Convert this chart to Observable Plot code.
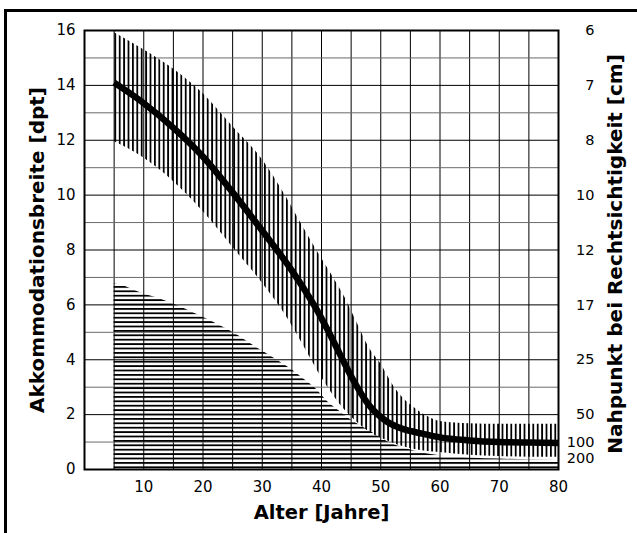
<!DOCTYPE html>
<html>
<head>
<meta charset="utf-8">
<script src="https://cdn.jsdelivr.net/npm/d3@7"></script>
<script src="https://cdn.jsdelivr.net/npm/@observablehq/plot@0.6"></script>
<style>
  html, body { margin: 0; padding: 0; background: #fff; }
  #wrap { position: relative; width: 637px; height: 533px; overflow: hidden; }
  #border { position: absolute; left: 4px; top: 9px; right: -10px; bottom: -10px; border-left: 3px solid #000; border-top: 3px solid #000; pointer-events: none; }
  #chart svg { display: block; }
</style>
</head>
<body>
<div id="wrap"><div id="chart"></div><div id="border"></div></div>
<script>
// Mean accommodation amplitude (thick curve)
const meanAges = [5, 10, 15, 20, 25, 30, 35, 37, 39, 41, 43, 45, 48, 51, 54, 57, 60, 65, 70, 75, 80];
const meanDpt  = [14.1, 13.35, 12.45, 11.4, 10.1, 8.7, 7.25, 6.6, 5.9, 5.1, 4.25, 3.4, 2.35, 1.75, 1.46, 1.31, 1.17, 1.06, 1.0, 0.98, 0.97];

// Scatter band (vertical hatching)
const bandAges  = [5, 10, 15, 20, 25, 30, 34, 37, 40, 42, 44, 46, 48, 50, 52, 54, 56, 58, 60, 65, 70, 75, 80];
const bandUpper = [15.93, 15.3, 14.6, 13.7, 12.5, 11.3, 9.95, 8.8, 7.7, 7.0, 6.25, 5.35, 4.45, 3.85, 3.1, 2.55, 2.2, 1.92, 1.75, 1.67, 1.65, 1.65, 1.65];
const bandLower = [11.95, 11.35, 10.5, 9.4, 8.1, 6.8, 5.6, 4.5, 3.35, 2.7, 2.15, 1.72, 1.38, 1.15, 0.97, 0.82, 0.72, 0.66, 0.62, 0.52, 0.47, 0.45, 0.45];

// Lower region (horizontal hatching)
const lowAges = [5, 7, 9, 11, 13, 15, 17, 19, 21, 23, 25, 27, 29, 31, 33, 35, 37, 39, 41, 43, 45, 48, 51, 54, 57, 60, 65, 70, 75, 80];
const lowTop  = [6.78, 6.66, 6.48, 6.33, 6.2, 6.03, 5.85, 5.65, 5.45, 5.23, 5.0, 4.73, 4.45, 4.19, 3.92, 3.64, 3.3, 2.95, 2.48, 2.13, 1.8, 1.42, 1.03, 0.77, 0.6, 0.5, 0.42, 0.38, 0.35, 0.33];

// Axes
const xTicks = [10, 20, 30, 40, 50, 60, 70, 80];
const xGrid = [5, 10, 15, 20, 25, 30, 35, 40, 45, 50, 55, 60, 65, 70, 75];
const yTicks = [0, 2, 4, 6, 8, 10, 12, 14, 16];
const yGridEven = [2, 4, 6, 8, 10, 12, 14];
const yGridOdd = [1, 3, 5, 7, 9, 11, 13, 15];
const rightTickDpt = [16, 14, 12, 10, 8, 6, 4, 2, 1];
const rightTickLabels = ["6", "7", "8", "10", "12", "17", "25", "50", "100"];
const rightTickDptLast = [0.5];
const rightTickLabelLast = ["200"];

const xTitle = "Alter [Jahre]";
const yTitle = "Akkommodationsbreite [dpt]";
const y2Title = "Nahpunkt bei Rechtsichtigkeit [cm]";

const font = "DejaVu Sans";

const chart = Plot.plot({
  width: 637,
  height: 533,
  marginLeft: 84,
  marginRight: 79,
  marginTop: 30,
  marginBottom: 64,
  style: { fontFamily: font, fontSize: "15px", color: "#000", background: "transparent" },
  x: { domain: [0, 80] },
  y: { domain: [0, 16] },
  marks: [
    Plot.ruleX(xGrid, { stroke: "#000", strokeWidth: 1 }),
    Plot.ruleY(yGridEven, { stroke: "#000", strokeWidth: 1 }),
    Plot.ruleY(yGridOdd, { stroke: "#6a6a6a", strokeWidth: 1 }),
    Plot.areaY(lowAges, { x: lowAges, y: lowTop, fill: "url(#hhatch)", curve: "monotone-x" }),
    Plot.areaY(bandAges, { x: bandAges, y1: bandLower, y2: bandUpper, fill: "url(#vhatch)", curve: "monotone-x" }),
    Plot.line(meanAges, { x: meanAges, y: meanDpt, stroke: "#000", strokeWidth: 6.5, curve: "monotone-x", strokeLinecap: "butt" }),
    Plot.frame({ stroke: "#000", strokeWidth: 2 }),
    Plot.axisX(xTicks, { tickSize: 0, tickPadding: 12, label: null }),
    Plot.axisY(yTicks, { anchor: "left", tickSize: 0, tickPadding: 9, label: null }),
    Plot.text(rightTickDpt, { y: rightTickDpt, text: rightTickLabels, frameAnchor: "right", dx: 36, textAnchor: "end", fontSize: 14.5 }),
    Plot.text(rightTickDptLast, { y: rightTickDptLast, text: rightTickLabelLast, frameAnchor: "right", dx: 36, dy: 3, textAnchor: "end", fontSize: 14.5 }),
    Plot.text([xTitle], { frameAnchor: "bottom", dy: 43, textAnchor: "middle", lineAnchor: "middle", fontWeight: "bold", fontSize: 19.5 }),
    Plot.text([yTitle], { frameAnchor: "left", dx: -47, rotate: -90, textAnchor: "middle", lineAnchor: "middle", fontWeight: "bold", fontSize: 20 }),
    Plot.text([y2Title], { frameAnchor: "right", dx: 57, dy: 4, rotate: -90, textAnchor: "middle", lineAnchor: "middle", fontWeight: "bold", fontSize: 20 })
  ]
});

// hatch patterns
const svg = d3.select(chart);
const defs = svg.insert("defs", ":first-child");
const vp = defs.append("pattern").attr("id", "vhatch").attr("patternUnits", "userSpaceOnUse")
  .attr("width", 4.4).attr("height", 10);
vp.append("rect").attr("x", 0).attr("y", 0).attr("width", 1.8).attr("height", 10).attr("fill", "#000");
const hp = defs.append("pattern").attr("id", "hhatch").attr("patternUnits", "userSpaceOnUse")
  .attr("width", 10).attr("height", 4.4);
hp.append("rect").attr("x", 0).attr("y", 0).attr("width", 10).attr("height", 1.8).attr("fill", "#000");

document.getElementById("chart").appendChild(chart);
</script>
</body>
</html>
